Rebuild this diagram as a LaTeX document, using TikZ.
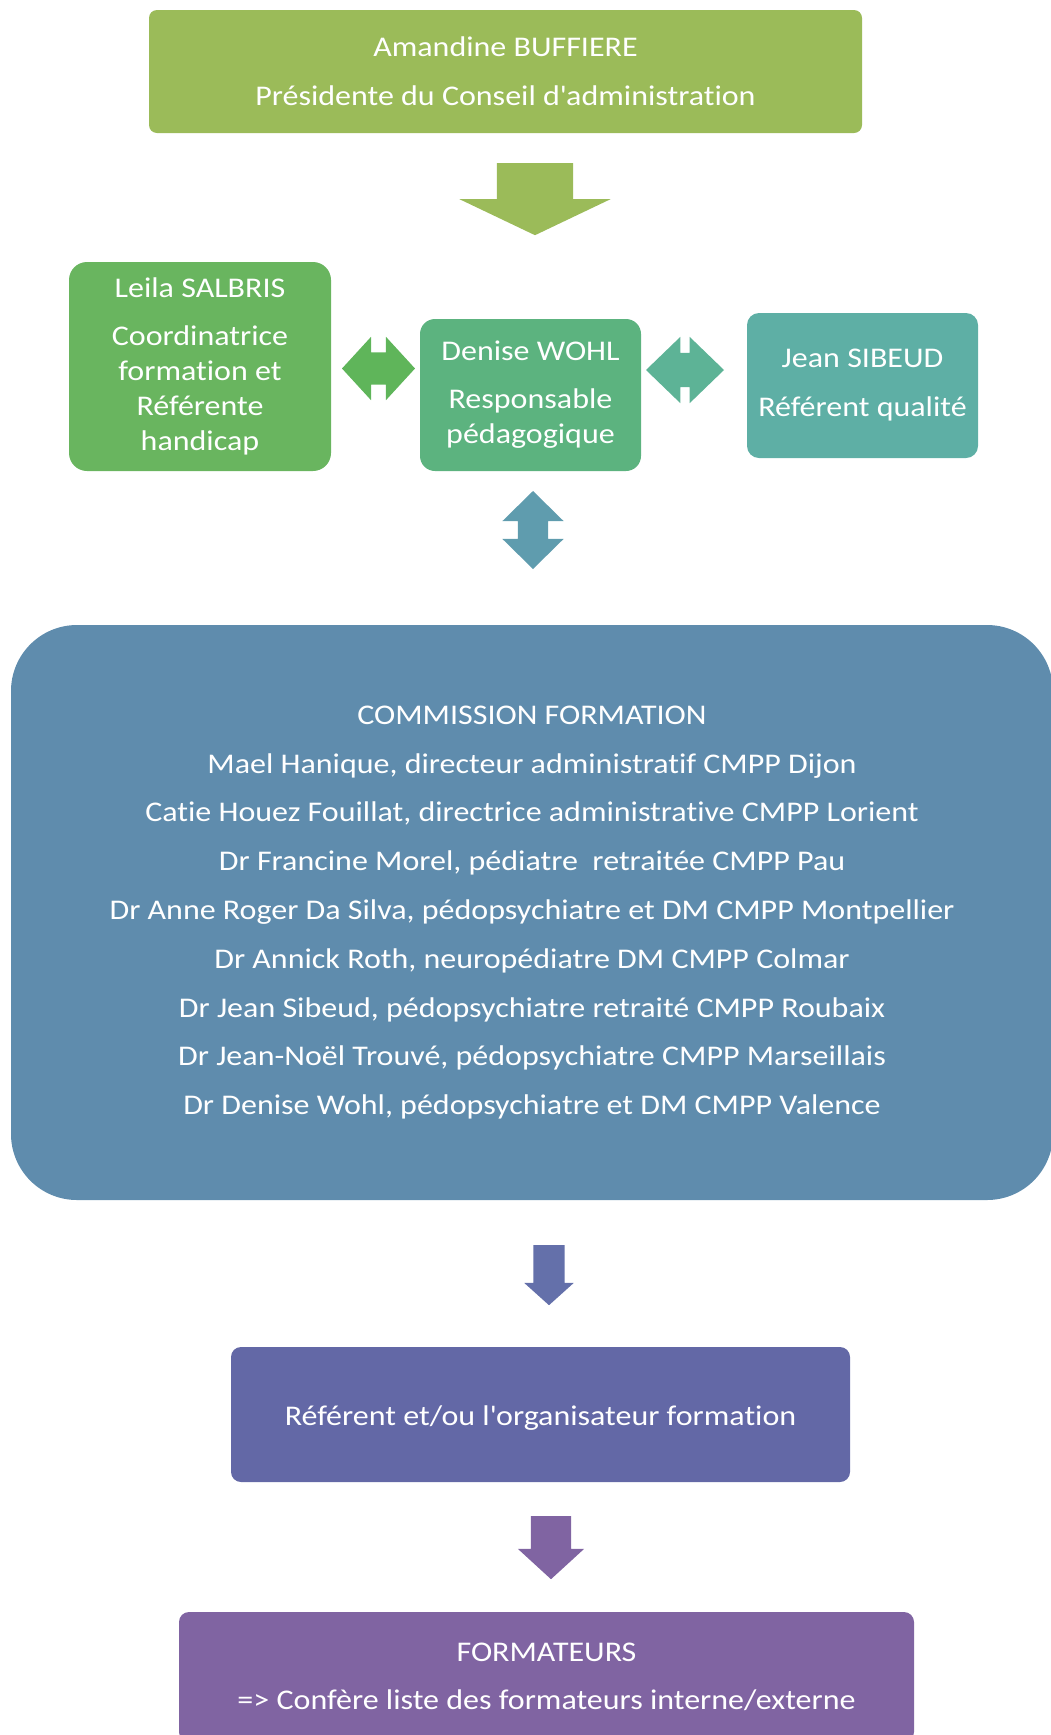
\documentclass[tikz,border=0pt]{standalone}
\usepackage{fontspec}
\setmainfont{Carlito}[FakeStretch=1.123,Ligatures=NoCommon]
\usetikzlibrary{shapes.arrows}

\definecolor{cTop}{HTML}{9BBB59}
\definecolor{cLeila}{HTML}{69B55F}
\definecolor{cArrL}{HTML}{5FB55A}
\definecolor{cDenise}{HTML}{5CB37F}
\definecolor{cArrR}{HTML}{5DB396}
\definecolor{cJean}{HTML}{5EAFA5}
\definecolor{cArrV}{HTML}{5F9CAE}
\definecolor{cComm}{HTML}{5F8CAD}
\definecolor{cArrB}{HTML}{6470AA}
\definecolor{cRef}{HTML}{6368A6}
\definecolor{cForm}{HTML}{8064A2}

\begin{document}
\begin{tikzpicture}[x=1pt,y=1pt,
	every node/.style={font=\fontsize{28.5}{35}\selectfont},
	box/.style={rounded corners=#1,text=white,align=center,inner sep=0pt,
		execute at begin node={\rule{0pt}{27pt}}},
	box/.default=10pt,
	downarrow/.style={single arrow,shape border rotate=270,anchor=tail,inner ysep=0pt,inner xsep=#1},
	twoway/.style={double arrow,inner xsep=0pt,inner ysep=#1},
	updown/.style={double arrow,shape border rotate=90,inner ysep=0pt,inner xsep=#1}
	]
	\useasboundingbox (0,0) rectangle (1051,-1735);
	
	%top of the chart
	\node[box=8pt,fill=cTop,minimum width=713pt,minimum height=123pt] (pres) at (505.5,-71.5)
	{Amandine BUFFIERE\\[14pt]Présidente du Conseil d\textquotesingle administration};
	\node[downarrow=38pt,fill=cTop,minimum width=151pt,single arrow head extend=37.5pt,
	single arrow tip angle=129,minimum height=72pt] (down1) at (535,-163) {};
	
	%the three people
	\node[box=18pt,fill=cLeila,minimum width=262pt,minimum height=209pt] (leila) at (200,-366.5)
	{Leila SALBRIS\\[13pt]Coordinatrice\\formation et\\Référente\\handicap};
	\node[box=15pt,fill=cDenise,minimum width=221pt,minimum height=152pt] (denise) at (530.5,-395)
	{Denise WOHL\\[13pt]Responsable\\pédagogique};
	\node[box=12pt,fill=cJean,minimum width=231pt,minimum height=145pt] (jean) at (862.5,-385.5)
	{Jean SIBEUD\\[14pt]Référent qualité};
	
	\node[twoway=16pt,fill=cArrL,minimum width=63pt,double arrow head extend=15.5pt,
	double arrow tip angle=95,minimum height=73pt,shape border rotate=-4] (lr1) at (378.5,-368.5) {};
	\node[twoway=17pt,fill=cArrR,minimum width=66pt,double arrow head extend=16pt,
	double arrow tip angle=88,minimum height=78pt] (lr2) at (685,-370) {};
	\node[updown=15pt,fill=cArrV,minimum width=61pt,double arrow head extend=15.5pt,
	double arrow tip angle=91,minimum height=78pt] (ud) at (533,-530) {};
	
	%commission
	\node[box=66pt,fill=cComm,minimum width=1042pt,minimum height=575pt] (comm) at (532,-912.5)
	{COMMISSION FORMATION\\[13.8pt]
		Mael Hanique, directeur administratif CMPP Dijon\\[13.8pt]
		Catie Houez Fouillat, directrice administrative CMPP Lorient\\[13.8pt]
		Dr Francine Morel, pédiatre~ retraitée CMPP Pau\\[13.8pt]
		Dr Anne Roger Da Silva, pédopsychiatre et DM CMPP Montpellier\\[13.8pt]
		Dr Annick Roth, neuropédiatre DM CMPP Colmar\\[13.8pt]
		Dr Jean Sibeud, pédopsychiatre retraité CMPP Roubaix\\[13.8pt]
		Dr Jean-Noël Trouvé, pédopsychiatre CMPP Marseillais\\[13.8pt]
		Dr Denise Wohl, pédopsychiatre et DM CMPP Valence};
	
	\node[downarrow=15.5pt,fill=cArrB,minimum width=49pt,single arrow head extend=9pt,
	single arrow tip angle=96,minimum height=60pt] (down2) at (549,-1245) {};
	\node[box=10pt,fill=cRef,minimum width=619pt,minimum height=135pt] (ref) at (540.5,-1414.5)
	{Référent et/ou l\textquotesingle organisateur formation};
	
	\node[downarrow=20pt,fill=cForm,minimum width=66pt,single arrow head extend=13pt,
	single arrow tip angle=95,minimum height=63pt] (down3) at (551,-1516) {};
	\node[box=10pt,fill=cForm,minimum width=735pt,minimum height=130pt] (form) at (546.5,-1677)
	{FORMATEURS\\[13pt]=> Confère liste des formateurs interne/externe};
\end{tikzpicture}
\end{document}
